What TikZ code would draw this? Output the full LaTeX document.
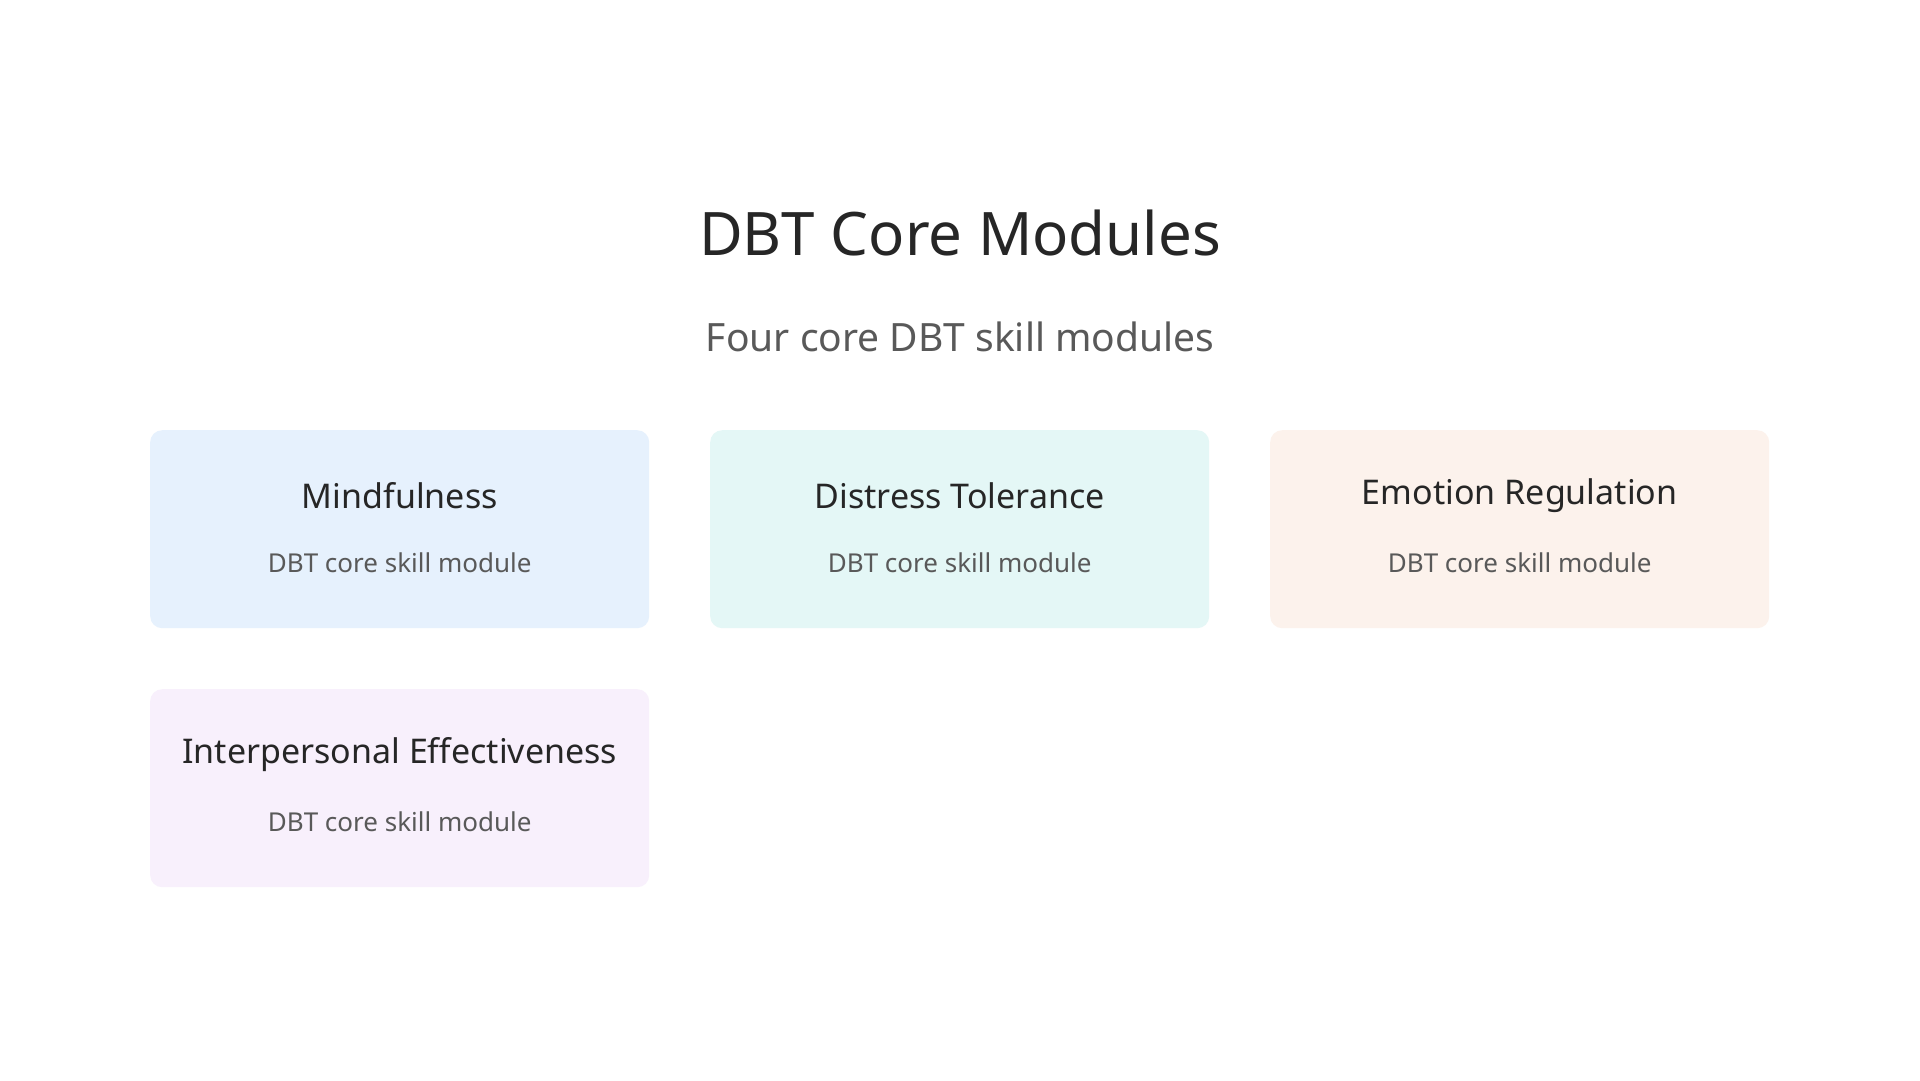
\documentclass[tikz,border=0pt]{standalone}
\usepackage{fontspec}
\setmainfont{Noto Sans}
\definecolor{cA}{HTML}{E6F1FD}
\definecolor{cB}{HTML}{E4F7F6}
\definecolor{cC}{HTML}{FCF2EC}
\definecolor{cD}{HTML}{F8F0FC}
\definecolor{tt}{HTML}{262626}
\definecolor{st}{HTML}{595959}
\begin{document}
\begin{tikzpicture}[x=1pt,y=-1pt,
  card/.style={rounded corners=12pt,minimum width=499pt,minimum height=198pt,draw=none,anchor=north west},
  head/.style={font=\bfseries\fontsize{34}{40}\selectfont,text=tt},
  sub/.style={font=\fontsize{26}{32}\selectfont,text=st}]
\useasboundingbox[fill=white] (0,0) rectangle (1920,1080);
\node[font=\fontsize{60}{70}\selectfont,text=tt] (title) at (960,233) {DBT Core Modules};
\node[font=\fontsize{39}{46}\selectfont,text=st] (subtitle) at (960,337) {Four core DBT skill modules};
\foreach \n/\x/\y/\c/\h in {a/150/430/cA/Mindfulness,b/710/430/cB/Distress Tolerance,c/1270/430/cC/Emotion Regulation,d/150/689/cD/Interpersonal Effectiveness}{
  \node[card,fill=\c] (\n) at (\x,\y) {};
  \node[head] (\n h) at ([yshift=-66pt]\n.north) {\h};
  \node[sub] (\n s) at ([yshift=-133pt]\n.north) {DBT core skill module};
}
\end{tikzpicture}
\end{document}
